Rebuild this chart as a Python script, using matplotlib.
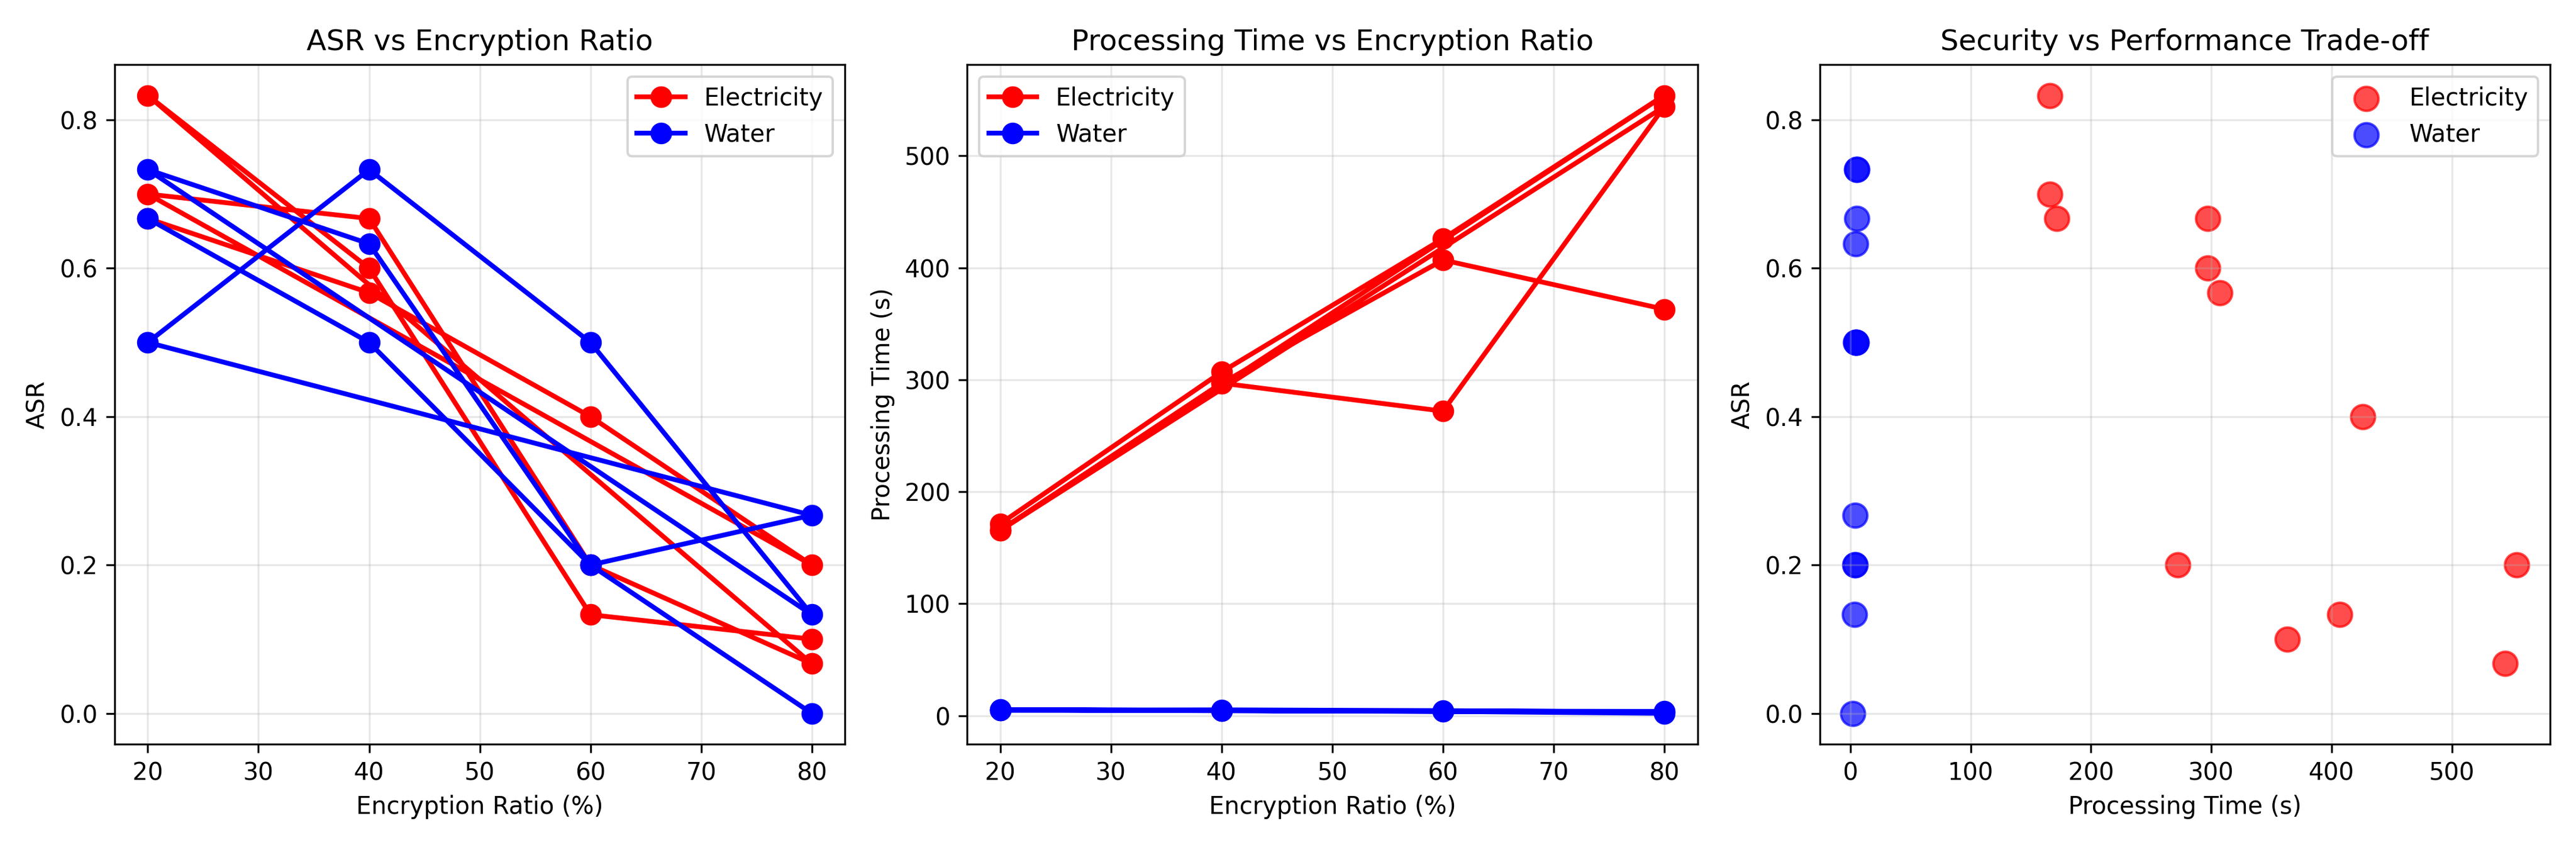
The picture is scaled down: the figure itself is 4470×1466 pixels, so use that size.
import numpy as np
import matplotlib
matplotlib.use('Agg')
import matplotlib.pyplot as plt

# --- data: 3 runs per dataset, each run over the 4 encryption ratios ---
ratios = [20, 40, 60, 80, 20, 40, 60, 80, 20, 40, 60, 80]

elec_asr = [0.667, 0.567, 0.400, 0.200,
            0.700, 0.667, 0.200, 0.067,
            0.833, 0.600, 0.133, 0.100]
elec_time = [171.5, 307.0, 426.0, 554.0,
             165.6, 297.0, 272.0, 544.0,
             165.6, 297.0, 407.0, 363.0]

water_asr = [0.667, 0.500, 0.200, 0.267,
             0.500, 0.733, 0.500, 0.133,
             0.733, 0.633, 0.200, 0.000]
water_time = [5.2, 4.7, 3.8, 3.8,
              4.9, 5.2, 4.5, 3.3,
              5.3, 4.4, 3.8, 2.1]

datasets = ['Electricity', 'Water']
colors = {'Electricity': 'red', 'Water': 'blue'}
asr = {'Electricity': elec_asr, 'Water': water_asr}
ptime = {'Electricity': elec_time, 'Water': water_time}

fig, axes = plt.subplots(1, 3, figsize=(14.9, 4.887))

# ASR vs ratio
ax = axes[0]
for name in datasets:
    ax.plot(ratios, asr[name], 'o-', color=colors[name], label=name,
            linewidth=2, markersize=8)
ax.set_xlabel('Encryption Ratio (%)')
ax.set_ylabel('ASR')
ax.set_title('ASR vs Encryption Ratio', fontsize=12)
ax.legend()
ax.grid(True, alpha=0.3)

# processing time vs ratio
ax = axes[1]
for name in datasets:
    ax.plot(ratios, ptime[name], 'o-', color=colors[name], label=name,
            linewidth=2, markersize=8)
ax.set_xlabel('Encryption Ratio (%)')
ax.set_ylabel('Processing Time (s)')
ax.set_title('Processing Time vs Encryption Ratio', fontsize=12)
ax.legend()
ax.grid(True, alpha=0.3)

# trade-off scatter
ax = axes[2]
for name in datasets:
    ax.scatter(ptime[name], asr[name], color=colors[name], label=name,
               s=100, alpha=0.7)
ax.set_xlabel('Processing Time (s)')
ax.set_ylabel('ASR')
ax.set_title('Security vs Performance Trade-off', fontsize=12)
ax.legend()
ax.grid(True, alpha=0.3)

plt.tight_layout()
plt.savefig('out.png', dpi=300)
